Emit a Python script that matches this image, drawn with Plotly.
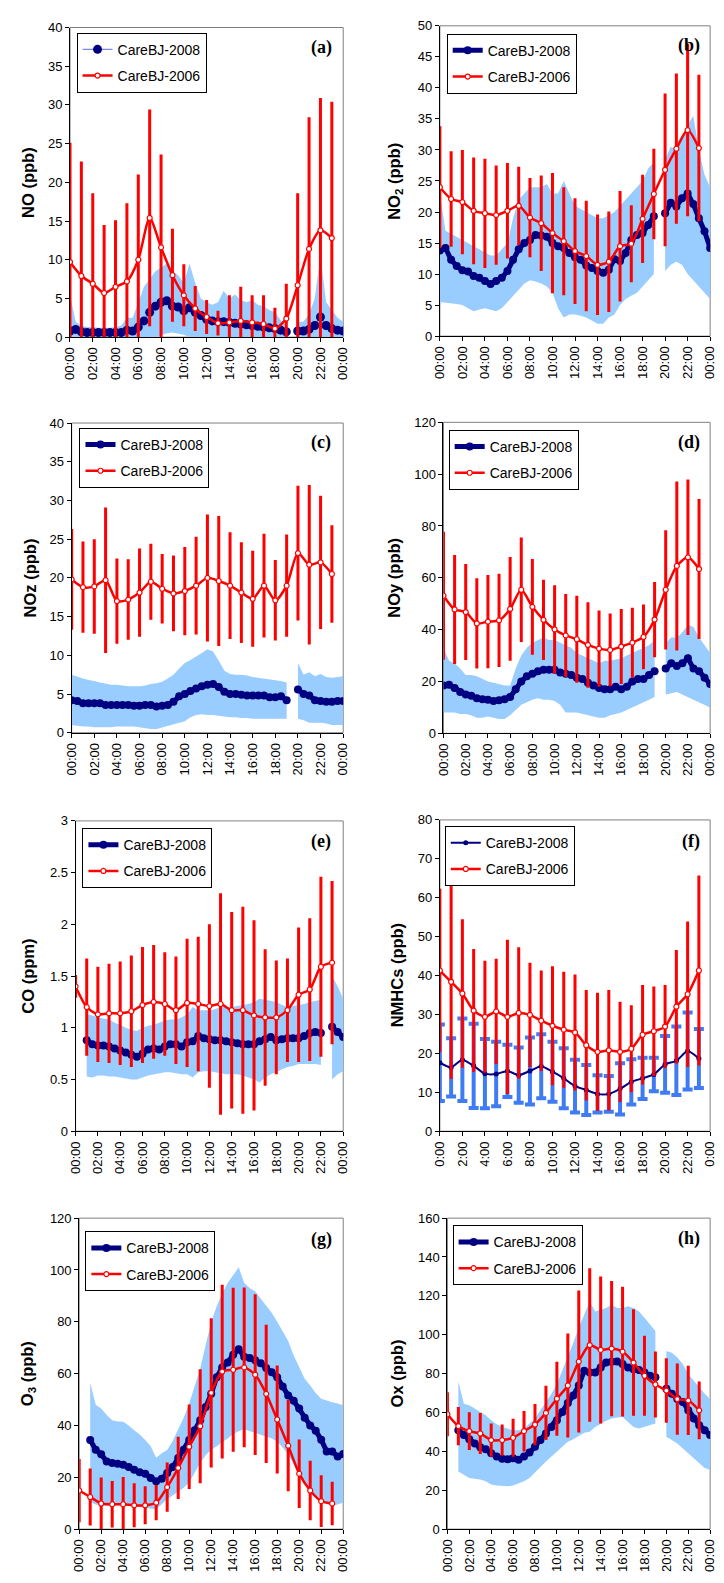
import plotly.graph_objects as go

W, H = 724, 1583

# ---------------- categories / ticks ----------------
HOURS = [0, 1, 2, 3, 4, 5, 6, 7, 8, 9, 10, 11, 12, 13, 14, 15, 16, 17, 18, 19, 20, 21, 22, 23]
HALF_HOURS = [0, 0.5, 1, 1.5, 2, 2.5, 3, 3.5, 4, 4.5, 5, 5.5,
              6, 6.5, 7, 7.5, 8, 8.5, 9, 9.5, 10, 10.5, 11, 11.5,
              12, 12.5, 13, 13.5, 14, 14.5, 15, 15.5, 16, 16.5, 17, 17.5,
              18, 18.5, 19, 19.5, 20, 20.5, 21, 21.5, 22, 22.5, 23, 23.5, 24]
TICK_VALS = [0, 2, 4, 6, 8, 10, 12, 14, 16, 18, 20, 22, 24]
TICK_TEXT = ["00:00", "02:00", "04:00", "06:00", "08:00", "10:00", "12:00",
             "14:00", "16:00", "18:00", "20:00", "22:00", "00:00"]
TICK_TEXT_F = ["0:00", "2:00", "4:00", "6:00", "8:00", "10:00", "12:00",
               "14:00", "16:00", "18:00", "20:00", "22:00", "0:00"]

# ---------------- (a) NO ----------------
NO_2006_MEAN = [9.7, 7.9, 6.9, 5.7, 6.5, 7.2, 10.0, 15.4, 11.6, 8.0, 5.4, 3.7,
                2.6, 1.8, 1.9, 2.1, 1.9, 1.7, 1.1, 2.4, 6.7, 11.4, 13.8, 12.8]
NO_2006_SD = [15.4, 14.8, 11.7, 8.8, 8.6, 10.1, 11.0, 14.0, 12.0, 6.0, 4.0, 2.9,
              2.2, 1.6, 3.5, 4.4, 3.5, 3.7, 2.7, 4.5, 11.9, 17.0, 17.1, 17.6]
NO_2008_MEAN = [0.8, 1.0, 0.7, 0.6, 0.6, 0.6, 0.6, 0.6, 0.6, 0.6, 0.9, 0.8,
                1.3, 2.1, 3.2, 4.0, 4.5, 4.7, 4.0, 3.9, 3.4, 3.8, 3.2, 2.8,
                2.3, 2.1, 2.0, 2.0, 1.9, 1.8, 1.7, 1.6, 1.5, 1.4, 1.3, 1.2,
                1.1, 0.9, 0.7, None, 0.8, 0.8, 1.0, 1.5, 2.6, 1.5, 1.1, 0.9, 0.8]
NO_2008_UPPER = [5.5, 2.0, 1.5, 1.3, 1.3, 1.2, 1.2, 1.2, 1.3, 1.5, 2.5, 2.5,
                 4.5, 6.5, 7.5, 8.5, 9.0, 9.5, 8.5, 8.0, 7.0, 9.5, 7.0, 5.0,
                 4.5, 4.2, 4.5, 6.0, 5.0, 5.5, 4.8, 4.5, 4.8, 4.2, 4.0, 3.5,
                 3.2, 2.2, 1.5, None, 2.0, 2.0, 3.0, 5.0, 10.5, 4.5, 3.5, 2.5, 2.0]
NO_2008_LOWER = [0, 0, 0, 0, 0, 0, 0, 0, 0, 0, 0, 0,
                 0, 0, 0, 0, 0.3, 0.5, 0.6, 0.5, 0.3, 0, 0, 0,
                 0, 0, 0, 0, 0, 0, 0, 0, 0, 0, 0, 0,
                 0, 0, 0, None, 0, 0, 0, 0, 0, 0, 0, 0, 0]

# ---------------- (b) NO2 ----------------
NO2_2006_MEAN = [24.0, 22.1, 21.6, 20.2, 19.8, 19.5, 20.2, 21.0, 19.1, 18.2, 16.6, 15.3,
                 13.7, 12.9, 11.5, 12.0, 14.5, 14.9, 18.9, 22.9, 26.8, 30.2, 33.2, 30.3]
NO2_2006_SD = [9.8, 7.7, 8.4, 8.6, 8.8, 8.0, 7.7, 6.3, 6.4, 7.7, 9.7, 8.7,
               8.5, 8.9, 8.1, 8.1, 8.9, 6.2, 7.1, 7.3, 12.3, 12.1, 13.9, 11.8]
NO2_2008_MEAN = [13.8, 14.2, 12.3, 11.3, 10.6, 10.4, 9.7, 9.4, 8.9, 8.4, 8.9, 9.4,
                 10.5, 12.3, 14.0, 15.0, 15.5, 16.3, 16.2, 16.0, 15.0, 14.5, 14.2, 13.4,
                 12.7, 12.3, 11.4, 11.0, 10.5, 10.2, 10.7, 12.4, 12.1, 13.4, 15.5, 16.3,
                 16.6, 17.9, 19.3, None, 19.8, 21.5, 20.9, 22.2, 23.0, 21.3, 19.0, 16.9, 14.2]
NO2_2008_UPPER = [23.0, 17.0, 16.5, 16.0, 15.5, 15.0, 14.5, 14.0, 13.5, 13.0, 13.0, 14.0,
                  15.0, 19.0, 22.0, 23.0, 24.0, 24.0, 24.0, 24.5, 23.0, 23.0, 25.0, 23.0,
                  21.0, 20.5, 20.0, 19.5, 19.0, 19.0, 19.5, 20.0, 21.0, 22.0, 23.0, 24.0,
                  25.0, 27.0, 28.0, None, 28.5, 30.5, 30.0, 32.0, 34.0, 35.5, 30.0, 26.0, 24.0]
NO2_2008_LOWER = [5.5, 5.5, 5.3, 5.2, 5.0, 4.5, 4.0, 4.3, 4.5, 4.2, 4.0, 4.5,
                  5.5, 6.5, 7.5, 8.5, 9.0, 8.8, 8.5, 8.0, 7.0, 4.5, 3.0, 3.5,
                  3.5, 3.3, 3.0, 2.5, 2.0, 2.0, 3.0, 3.5, 5.0, 6.0, 6.5, 7.0,
                  8.0, 9.0, 10.0, None, 10.5, 11.5, 12.0, 11.5, 10.0, 9.0, 8.0, 7.0, 6.0]

# ---------------- (c) NOz ----------------
NOZ_2006_MEAN = [19.8, 18.8, 18.9, 19.7, 17.0, 17.2, 18.1, 19.5, 18.6, 18.0, 18.3, 19.0,
                 20.0, 19.6, 19.0, 18.1, 17.3, 19.0, 17.1, 19.0, 23.2, 21.7, 22.0, 20.5]
NOZ_2006_SD = [6.5, 5.9, 6.1, 9.4, 5.5, 5.2, 5.7, 4.9, 4.5, 4.9, 5.7, 6.3,
               8.2, 8.4, 6.9, 6.5, 6.2, 6.7, 5.2, 6.6, 8.7, 10.3, 8.6, 6.3]
NOZ_2008_MEAN = [4.2, 4.1, 3.8, 3.8, 3.8, 3.8, 3.6, 3.6, 3.6, 3.6, 3.6, 3.5,
                 3.5, 3.6, 3.6, 3.4, 3.5, 3.6, 4.0, 4.7, 5.0, 5.4, 5.7, 6.0,
                 6.2, 6.3, 5.9, 5.3, 5.0, 5.0, 4.9, 4.8, 4.8, 4.8, 4.8, 4.6,
                 4.6, 4.7, 4.2, None, 5.6, 5.0, 4.8, 4.2, 4.1, 4.0, 4.0, 4.1, 4.1]
NOZ_2008_UPPER = [7.5, 7.2, 7.0, 6.8, 6.7, 6.5, 6.3, 6.2, 6.2, 6.1, 6.0, 6.0,
                  6.0, 6.1, 6.3, 6.4, 6.6, 7.0, 7.5, 8.3, 9.0, 9.4, 9.8, 10.3,
                  10.8, 10.5, 9.3, 8.0, 7.6, 7.5, 7.5, 7.4, 7.2, 7.1, 7.0, 6.9,
                  6.8, 6.7, 6.5, None, 9.0, 7.5, 7.8, 7.3, 7.6, 7.2, 7.1, 7.2, 7.3]
NOZ_2008_LOWER = [1.0, 0.9, 0.8, 0.8, 0.7, 0.7, 0.7, 0.7, 0.8, 0.8, 0.8, 0.8,
                  0.7, 0.6, 0.5, 0.5, 0.7, 0.9, 1.1, 1.3, 1.5, 2.0, 2.3, 2.4,
                  2.3, 2.3, 2.2, 2.1, 2.0, 2.0, 1.9, 1.9, 1.8, 1.8, 1.8, 1.8,
                  1.8, 1.8, 1.8, None, 1.8, 1.6, 1.3, 1.3, 1.3, 1.2, 1.0, 1.0, 1.0]

# ---------------- (d) NOy ----------------
NOY_2006_MEAN = [53.1, 47.8, 46.8, 42.4, 43.1, 43.6, 48.0, 55.4, 48.8, 43.8, 40.1, 37.8,
                 36.3, 34.1, 32.7, 32.2, 33.5, 35.0, 37.2, 43.9, 55.4, 64.6, 67.9, 63.4]
NOY_2006_SD = [24.7, 21.0, 18.5, 17.4, 18.0, 18.0, 20.0, 20.2, 18.5, 15.5, 17.0, 16.0,
               16.8, 16.5, 14.7, 14.0, 14.5, 13.5, 12.5, 14.5, 23.0, 32.6, 30.0, 27.0]
NOY_2008_MEAN = [18.5, 18.8, 17.5, 16.0, 15.0, 14.5, 13.5, 13.2, 13.0, 12.5, 12.8, 13.2,
                 14.0, 17.0, 20.0, 22.0, 23.0, 24.0, 24.5, 24.5, 24.5, 23.5, 23.0, 22.5,
                 21.5, 21.0, 19.5, 18.5, 17.5, 17.0, 17.0, 18.0, 17.0, 18.0, 20.0, 21.0,
                 21.0, 22.5, 24.0, None, 25.0, 27.0, 26.0, 27.0, 29.0, 25.0, 24.0, 21.5, 19.0]
NOY_2008_UPPER = [33, 28, 27, 25, 22.5, 22.5, 22, 21, 20, 19.5, 19, 18.5,
                  18.5, 25, 30, 33, 35, 36, 37, 36, 36, 35, 34, 33,
                  31, 30, 29, 28, 27, 28, 28, 28.5, 29, 30, 31, 32,
                  33, 34, 36, None, 35, 37, 37, 39, 42, 41, 37, 34, 31]
NOY_2008_LOWER = [8, 8, 8, 7.5, 7.5, 7, 6, 6, 6.5, 6, 5.5, 5.5,
                  7, 9, 11, 12, 13, 13.5, 13, 13, 12.5, 11, 8, 8,
                  8, 7.5, 7, 6.5, 6, 6, 7, 7.5, 8, 9, 10, 11,
                  12, 13, 14, None, 15, 15.5, 16, 15, 14, 13, 12, 11, 10]

# ---------------- (e) CO ----------------
CO_2006_MEAN = [1.40, 1.20, 1.13, 1.14, 1.14, 1.16, 1.22, 1.25, 1.23, 1.17, 1.24, 1.23,
                1.21, 1.23, 1.17, 1.17, 1.12, 1.10, 1.10, 1.17, 1.32, 1.37, 1.59, 1.63]
CO_2006_SD = [0.11, 0.47, 0.46, 0.48, 0.50, 0.54, 0.56, 0.55, 0.50, 0.52, 0.62, 0.65,
              0.79, 1.07, 0.95, 1.00, 0.92, 0.66, 0.55, 0.50, 0.65, 0.69, 0.87, 0.79]
CO_2008_MEAN = [None, None, 0.88, 0.84, 0.83, 0.83, 0.82, 0.80, 0.78, 0.76, 0.74, 0.72,
                0.75, 0.79, 0.80, 0.79, 0.82, 0.84, 0.84, 0.82, 0.86, 0.87, 0.92, 0.90,
                0.89, 0.88, 0.88, 0.87, 0.86, 0.85, 0.84, 0.84, 0.84, 0.87, 0.89, 0.91,
                0.88, 0.89, 0.90, 0.90, 0.90, 0.92, 0.95, 0.96, 0.95, None, 1.01, 0.96, 0.91]
CO_2008_UPPER = [None, None, 1.13, 1.12, 1.10, 1.09, 1.08, 1.05, 1.03, 1.00, 0.98, 0.97,
                 1.00, 1.02, 1.03, 1.05, 1.07, 1.08, 1.08, 1.10, 1.13, 1.20, 1.17, 1.17,
                 1.17, 1.18, 1.20, 1.20, 1.20, 1.21, 1.22, 1.23, 1.25, 1.28, 1.27, 1.26,
                 1.25, 1.22, 1.20, 1.21, 1.22, 1.23, 1.25, 1.26, 1.27, None, 1.50, 1.40, 1.28]
CO_2008_LOWER = [None, None, 0.53, 0.52, 0.54, 0.54, 0.53, 0.53, 0.52, 0.51, 0.50, 0.50,
                 0.52, 0.54, 0.55, 0.56, 0.57, 0.57, 0.56, 0.55, 0.55, 0.52, 0.57, 0.58,
                 0.58, 0.57, 0.56, 0.55, 0.55, 0.55, 0.54, 0.52, 0.50, 0.47, 0.52, 0.55,
                 0.57, 0.60, 0.62, 0.63, 0.65, 0.65, 0.65, 0.65, 0.64, None, 0.50, 0.55, 0.58]

# ---------------- (f) NMHCs ----------------
NMHC_2006_MEAN = [41.3, 38.4, 35.4, 31.0, 29.4, 30.8, 29.4, 30.4, 29.9, 28.4, 27.1, 26.1,
                  25.4, 22.1, 20.4, 20.8, 20.4, 21.2, 24.8, 25.7, 26.9, 32.0, 35.2, 41.3]
NMHC_2006_SD = [21.0, 25.0, 19.1, 15.8, 14.4, 13.5, 19.8, 16.9, 13.4, 12.9, 15.3, 14.9,
                14.9, 14.2, 15.2, 15.5, 12.9, 11.2, 12.8, 11.5, 10.7, 14.6, 18.7, 24.4]
NMHC_2008_MEAN = [17.6, 16.4, 18.4, 16.8, 14.8, 14.7, 15.5, 14.4, 15.5, 16.7, 15.3, 13.6,
                  11.6, 10.6, 9.6, 9.6, 10.9, 12.7, 13.6, 14.6, 17.2, 18.1, 20.6, 18.7]
NMHC_2008_SD = [9.8, 7.5, 10.6, 10.8, 8.9, 8.3, 6.7, 7.1, 8.6, 8.2, 7.7, 7.7,
                6.8, 6.4, 4.8, 4.6, 6.6, 5.8, 5.3, 4.3, 7.3, 8.8, 9.9, 7.6]

# ---------------- (g) O3 ----------------
O3_2006_MEAN = [14.9, 12.4, 9.9, 9.6, 9.6, 9.2, 9.2, 10.2, 16.2, 23.6, 31.8, 39.7,
                52.6, 60.8, 61.5, 62.4, 59.6, 52.2, 42.3, 32.2, 21.4, 14.9, 10.8, 9.9]
O3_2006_SD = [12.2, 11.0, 10.0, 9.0, 10.5, 8.5, 7.3, 6.8, 9.5, 12.0, 16.3, 22.0,
              28.8, 33.5, 31.6, 30.8, 31.0, 26.7, 20.8, 17.6, 13.2, 11.5, 10.0, 8.4]
O3_2008_MEAN = [None, None, 34.4, 30.6, 28.9, 26.1, 25.5, 25.2, 24.8, 24.0, 22.9, 21.9,
                21.4, 19.7, 18.5, 19.4, 21.7, 24.0, 27.4, 30.6, 34.4, 38.2, 42.0, 47.1,
                52.2, 58.6, 62.4, 64.3, 67.3, 69.4, 66.5, 66.0, 65.2, 64.0, 62.2, 60.5,
                58.6, 55.0, 51.6, 49.5, 46.5, 43.0, 40.0, 38.0, 34.5, 30.0, 30.0, 28.0, 29.0]
O3_2008_UPPER = [None, None, 56.5, 48, 46.5, 44, 42, 41.5, 41.4, 40, 38.2, 36.5,
                 34.4, 32, 27.5, 29.3, 30.5, 34, 38.5, 43, 48.5, 55, 62, 71,
                 80, 86, 91, 95, 98, 101, 95, 93, 91.7, 89, 86.6, 83.5,
                 80, 76, 72.6, 67, 62.4, 58, 55.4, 52.5, 50.3, 49.5, 49, 48.5, 47.8]
O3_2008_LOWER = [None, None, 10.5, 9.5, 9.0, 9.0, 9.0, 9.0, 9.2, 9.0, 8.7, 8.5,
                 8.3, 8.0, 7.6, 9.6, 11.5, 13.0, 14.6, 16.0, 18.0, 21.5, 25.5, 28.5,
                 30.6, 32.0, 33.4, 35.0, 36.7, 37.8, 38.5, 38.0, 37.2, 36.5, 35.7, 35.0,
                 33.8, 31.5, 28.7, 25.0, 21.0, 18.0, 15.3, 13.0, 11.5, 10.0, 8.9, 9.5, 10.2]

# ---------------- (h) Ox ----------------
OX_2006_MEAN = [59.1, 53.0, 50.4, 49.2, 45.8, 45.8, 47.0, 50.4, 53.8, 59.8, 67.1, 73.9,
                86.2, 94.7, 92.2, 92.9, 91.3, 85.7, 78.9, 74.4, 71.3, 66.9, 66.2, 61.1]
OX_2006_SD = [11.3, 9.8, 9.7, 10.6, 8.5, 8.0, 9.8, 10.4, 10.6, 14.0, 19.0, 26.7,
              36.5, 39.5, 37.8, 34.8, 33.4, 27.4, 20.6, 17.0, 16.6, 18.3, 17.8, 14.9]
OX_2008_MEAN = [None, None, 50.9, 48.4, 46.2, 44.1, 42.1, 41.1, 39.0, 37.4, 36.2, 36.0,
                36.5, 35.7, 37.4, 39.4, 42.4, 45.8, 49.2, 52.6, 56.0, 60.3, 64.9, 68.8,
                73.9, 81.5, 80.6, 80.6, 83.2, 85.7, 86.1, 86.2, 84.9, 83.2, 82.3, 81.8,
                80.6, 78.9, 78.1, None, 72.2, 69.6, 67.0, 65.4, 61.1, 56.9, 53.5, 50.9, 48.4]
OX_2008_UPPER = [None, None, 76, 64.5, 63.7, 62, 60.3, 58.6, 56, 54, 52.6, 51.8,
                 50.9, 50.9, 51.8, 54.3, 56.9, 61.1, 65.4, 69.6, 74.7, 81.5, 89.1, 95.9,
                 103.6, 110.4, 117.1, 112, 112.9, 113.8, 115.4, 113.8, 113.8, 114.6, 113.8, 112,
                 108.7, 105.3, 101.9, None, 91.7, 90.8, 88.3, 84.9, 79.8, 76.4, 73, 69.6, 67]
OX_2008_LOWER = [None, None, 29.7, 28, 26.3, 25.8, 25.5, 24.6, 22.9, 22.4, 22.1, 22.1,
                 22.4, 23.4, 24.6, 26.3, 28.9, 31.9, 34.8, 37.7, 39.9, 42.4, 45, 46.2,
                 47.9, 49.6, 50.1, 52.6, 54.3, 55.7, 56.9, 57.4, 57.7, 55.2, 52.6, 51.8,
                 52.6, 53.5, 54.3, None, 47.5, 45.8, 44.1, 41.6, 39, 36.5, 34, 31.4, 30.6]

# ---------------- styling ----------------
NAVY = "#000080"
RED = "#ff0000"
BAND = "#99ccff"
BLUE_BAR = "#3f7cf4"
SANS = "Liberation Sans, Arial, sans-serif"
SERIF = "Liberation Serif, Times New Roman, serif"

panels = [
    dict(tag="(a)", ytitle="<b>NO (ppb)</b>", ymax=40, dtick=5,
         m06=NO_2006_MEAN, sd06=NO_2006_SD, m08=NO_2008_MEAN, hi08=NO_2008_UPPER, lo08=NO_2008_LOWER,
         box=(63.3, 342.3, 20.7, 333.3), leg=(70, 26), lab=(320, 41), tx=21, thin=True),
    dict(tag="(b)", ytitle="<b>NO<sub>2</sub> (ppb)</b>", ymax=50, dtick=5,
         m06=NO2_2006_MEAN, sd06=NO2_2006_SD, m08=NO2_2008_MEAN, hi08=NO2_2008_UPPER, lo08=NO2_2008_LOWER,
         box=(441, 717, 19, 332.3), leg=(448, 27), lab=(695, 39), tx=395),
    dict(tag="(c)", ytitle="<b>NOz (ppb)</b>", ymax=40, dtick=5,
         m06=NOZ_2006_MEAN, sd06=NOZ_2006_SD, m08=NOZ_2008_MEAN, hi08=NOZ_2008_UPPER, lo08=NOZ_2008_LOWER,
         box=(65, 342.3, 420, 732.7), leg=(73, 425), lab=(320, 440), tx=22),
    dict(tag="(d)", ytitle="<b>NOy (ppb)</b>", ymax=120, dtick=20,
         m06=NOY_2006_MEAN, sd06=NOY_2006_SD, m08=NOY_2008_MEAN, hi08=NOY_2008_UPPER, lo08=NOY_2008_LOWER,
         box=(444.7, 717, 419.3, 733.3), leg=(450, 427), lab=(695, 440), tx=394),
    dict(tag="(e)", ytitle="<b>CO (ppm)</b>", ymax=3, dtick=0.5,
         m06=CO_2006_MEAN, sd06=CO_2006_SD, m08=CO_2008_MEAN, hi08=CO_2008_UPPER, lo08=CO_2008_LOWER,
         box=(69, 342.3, 821.7, 1135), leg=(76, 829), lab=(320, 842), tx=21),
    dict(tag="(f)", ytitle="<b>NMHCs (ppb)</b>", ymax=80, dtick=10,
         m06=NMHC_2006_MEAN, sd06=NMHC_2006_SD, m08=NMHC_2008_MEAN, sd08=NMHC_2008_SD,
         box=(441, 717, 820.7, 1135), leg=(446, 827), lab=(697, 842), tx=397, ftick=True),
    dict(tag="(g)", ytitle="<b>O<sub>3</sub> (ppb)</b>", ymax=120, dtick=20,
         m06=O3_2006_MEAN, sd06=O3_2006_SD, m08=O3_2008_MEAN, hi08=O3_2008_UPPER, lo08=O3_2008_LOWER,
         box=(72.7, 342.3, 1222.7, 1536.7), leg=(79, 1236), lab=(320, 1244), tx=20),
    dict(tag="(h)", ytitle="<b>Ox (ppb)</b>", ymax=160, dtick=20,
         m06=OX_2006_MEAN, sd06=OX_2006_SD, m08=OX_2008_MEAN, hi08=OX_2008_UPPER, lo08=OX_2008_LOWER,
         box=(448.7, 717, 1222.7, 1536.7), leg=(454, 1230), lab=(695, 1243), tx=397),
]


def segments(xs, lo, hi):
    segs, cur = [], []
    for xv, l, h in zip(xs, lo, hi):
        if l is None or h is None:
            if cur:
                segs.append(cur)
            cur = []
        else:
            cur.append((xv, l, h))
    if cur:
        segs.append(cur)
    return segs


fig = go.Figure()
layout = dict(width=W, height=H, margin=dict(l=0, r=0, t=0, b=0), autosize=False,
              paper_bgcolor="white", plot_bgcolor="white", showlegend=True)
annotations = []
shapes = []

for i, p in enumerate(panels):
    n = i + 1
    sfx = "" if n == 1 else str(n)
    xa, ya = "x" + sfx, "y" + sfx
    leg = "legend" + sfx
    l, r, t, b = p["box"]

    # 2008 band
    if "hi08" in p:
        for seg in segments(HALF_HOURS, p["lo08"], p["hi08"]):
            bx = [s[0] for s in seg] + [s[0] for s in reversed(seg)]
            by = [s[2] for s in seg] + [s[1] for s in reversed(seg)]
            fig.add_trace(go.Scatter(x=bx, y=by, xaxis=xa, yaxis=ya, mode="lines",
                                     fill="toself", fillcolor=BAND, line=dict(width=0, color=BAND),
                                     hoverinfo="skip", showlegend=False, legend=leg))
        thin = p.get("thin", False)
        fig.add_trace(go.Scatter(
            x=HALF_HOURS, y=p["m08"], xaxis=xa, yaxis=ya, name="CareBJ-2008",
            mode="lines+markers", connectgaps=False,
            line=dict(color="#7b8ae6" if thin else NAVY, width=1.2 if thin else 5),
            marker=dict(color=NAVY, size=9 if thin else 8),
            legend=leg, legendgroup="g08" + sfx))
    else:
        fig.add_trace(go.Scatter(
            x=HOURS, y=p["m08"], xaxis=xa, yaxis=ya, name="CareBJ-2008",
            mode="lines+markers", line=dict(color=NAVY, width=2, shape="spline", smoothing=0.6),
            marker=dict(color=NAVY, size=5),
            error_y=dict(type="data", array=p["sd08"], color=BLUE_BAR, thickness=4, width=5),
            legend=leg, legendgroup="g08" + sfx))

    # 2006 hourly
    fig.add_trace(go.Scatter(
        x=HOURS, y=p["m06"], xaxis=xa, yaxis=ya, name="CareBJ-2006",
        mode="lines+markers", line=dict(color=RED, width=2.5, shape="spline", smoothing=0.7),
        marker=dict(symbol="circle", size=5, color="white", line=dict(color=RED, width=1.2)),
        error_y=dict(type="data", array=p["sd06"], color=RED, thickness=3, width=0),
        legend=leg, legendgroup="g06" + sfx))

    layout["xaxis" + sfx] = dict(
        domain=[l / W, r / W], anchor=ya, range=[0, 24],
        tickmode="array", tickvals=TICK_VALS,
        ticktext=TICK_TEXT_F if p.get("ftick") else TICK_TEXT,
        tickangle=-90, ticks="outside", ticklen=4, tickcolor="black",
        showline=True, linecolor="black", linewidth=1,
        showgrid=False, zeroline=False,
        tickfont=dict(family=SANS, size=13, color="black"))
    layout["yaxis" + sfx] = dict(
        domain=[1 - b / H, 1 - t / H], anchor=xa, range=[0, p["ymax"]], dtick=p["dtick"],
        ticks="outside", ticklen=4, tickcolor="black",
        showline=True, linecolor="black", linewidth=1,
        showgrid=False, zeroline=False,
        tickfont=dict(family=SANS, size=13, color="black"))
    layout[leg] = dict(
        x=p["leg"][0] / W, y=1 - p["leg"][1] / H, xanchor="left", yanchor="top",
        bgcolor="white", bordercolor="black", borderwidth=1,
        font=dict(family=SANS, size=14, color="black"),
        traceorder="grouped", tracegroupgap=5, itemwidth=30)

    shapes.append(dict(type="rect", xref=xa + " domain", yref=ya + " domain",
                       x0=0, x1=1, y0=0, y1=1, line=dict(color="#808080", width=1),
                       layer="below"))
    annotations.append(dict(text=p["ytitle"], x=p["tx"] / W, y=1 - ((t + b) / 2) / H,
                            xref="paper", yref="paper", showarrow=False, textangle=-90,
                            xanchor="center", yanchor="middle",
                            font=dict(family=SANS, size=16.5, color="black")))
    annotations.append(dict(text="<b>" + p["tag"] + "</b>", x=p["lab"][0] / W, y=1 - p["lab"][1] / H,
                            xref="paper", yref="paper", showarrow=False,
                            xanchor="center", yanchor="middle",
                            font=dict(family=SERIF, size=18, color="black")))

layout["annotations"] = annotations
layout["shapes"] = shapes
fig.update_layout(**layout)
fig.write_html("out.html")
